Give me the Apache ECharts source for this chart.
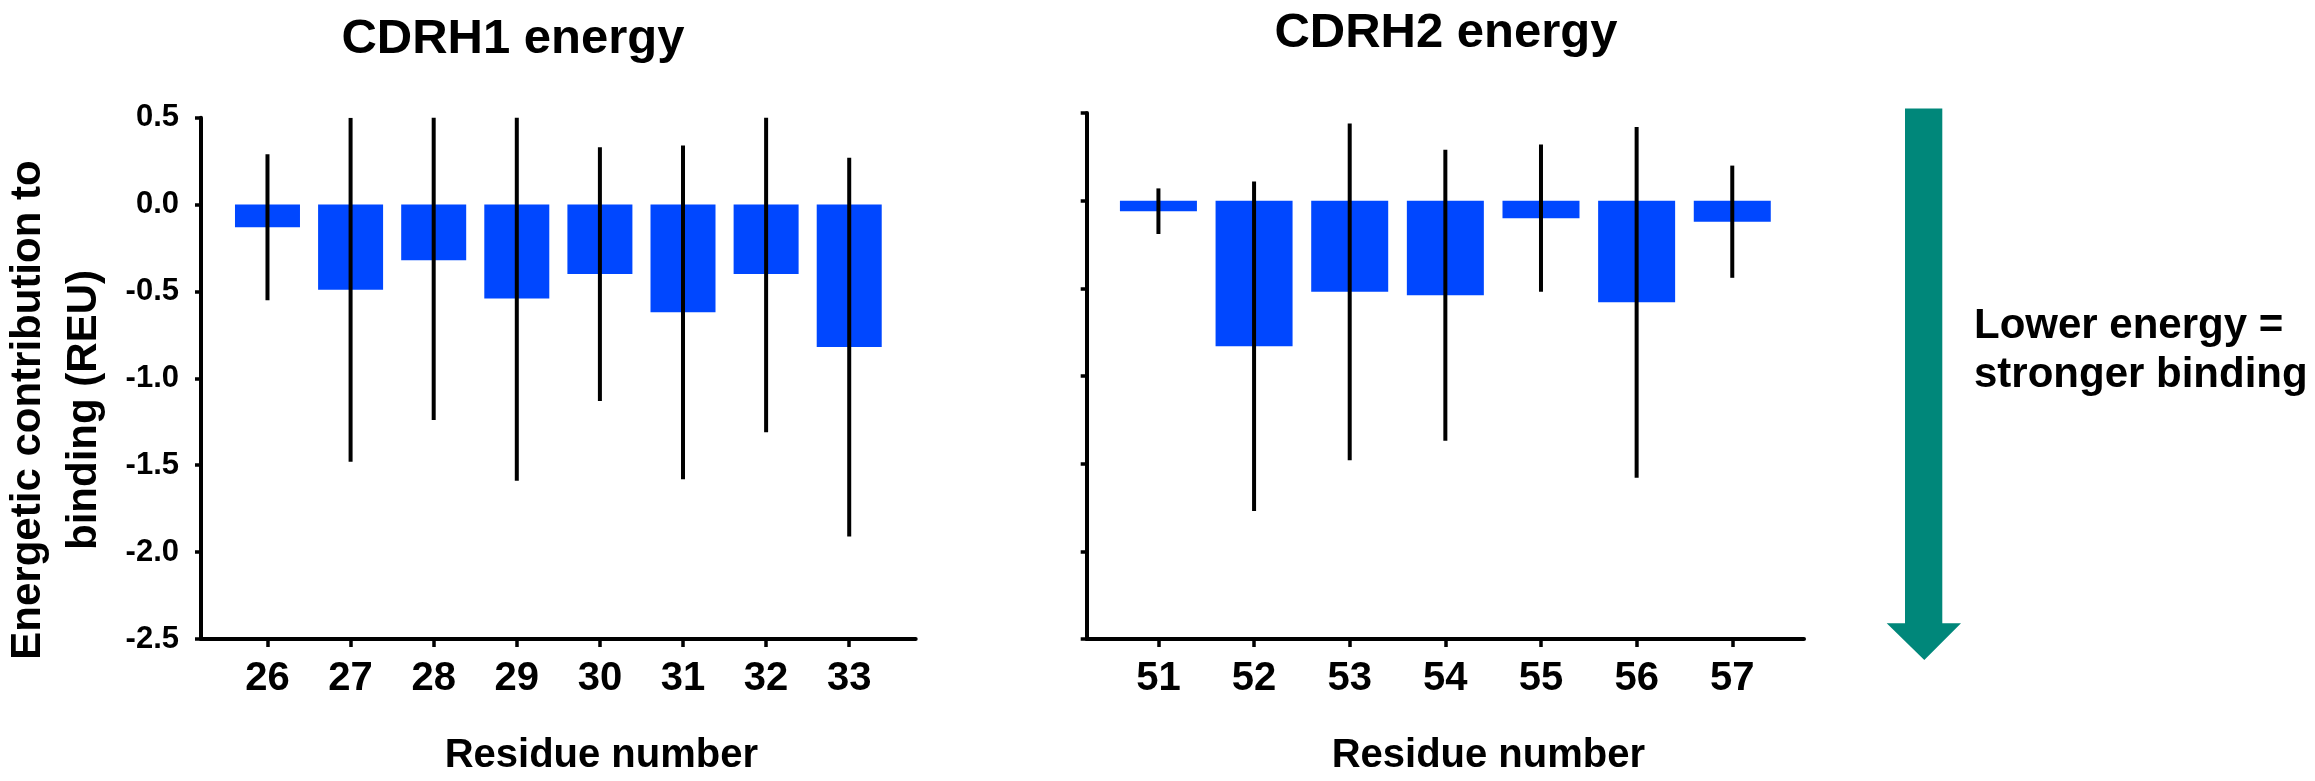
<!DOCTYPE html>
<html>
<head>
<meta charset="utf-8">
<title>CDRH energy</title>
<script src="https://cdn.jsdelivr.net/npm/echarts@6/dist/echarts.min.js"></script>
<style>
html, body { margin: 0; padding: 0; background: #ffffff; }
#main { width: 2315px; height: 781px; }
</style>
</head>
<body>
<div id="main"></div>
<script>
// CDRH1 per-residue energy (REU), mean and spread
var residues1 = [26, 27, 28, 29, 30, 31, 32, 33];
var energy1 = [-0.13, -0.49, -0.32, -0.54, -0.40, -0.62, -0.40, -0.82];
var sd1 = [0.42, 0.99, 0.92, 1.05, 0.73, 0.96, 0.91, 1.09];

// CDRH2
var residues2 = [51, 52, 53, 54, 55, 56, 57];
var energy2 = [-0.06, -0.83, -0.52, -0.54, -0.10, -0.58, -0.12];
var sd2 = [0.13, 0.94, 0.96, 0.83, 0.42, 1.00, 0.32];

// shared y axis
var yMin = -2.5, yMax = 0.5, yStep = 0.5;

var FONT = '"Liberation Sans", Arial, sans-serif';
var BLUE = '#0047ff';
var TEAL = '#00877a';

var myChart = echarts.init(document.getElementById('main'));

function xAxisOf(grid, lo, hi, ticks) {
	return {
		type: 'value', gridIndex: grid, min: lo, max: hi,
		name: 'Residue number', nameLocation: 'middle', nameGap: 97,
		nameTextStyle: { fontFamily: FONT, fontWeight: 'bold', fontSize: 40, color: '#000', padding: [0, 0, 0, 86] },
		axisLine: { show: true, onZero: false, lineStyle: { color: '#000', width: 4 } },
		axisTick: { show: true, customValues: ticks, length: 8, lineStyle: { color: '#000', width: 3.5 } },
		axisLabel: { customValues: ticks, margin: 20, fontFamily: FONT, fontWeight: 'bold', fontSize: 40, color: '#000' },
		splitLine: { show: false }
	};
}

function yAxisOf(grid, showLabels) {
	return {
		type: 'value', gridIndex: grid, min: yMin, max: yMax, interval: yStep,
		axisLine: { show: true, lineStyle: { color: '#000', width: 4 } },
		axisTick: { show: true, length: 6, lineStyle: { color: '#000', width: 3.5 } },
		axisLabel: {
			show: showLabels, margin: 22, padding: [9, 0, 0, 0],
			fontFamily: FONT, fontWeight: 'bold', fontSize: 31, color: '#000',
			formatter: function (v) { return v.toFixed(1); }
		},
		splitLine: { show: false }
	};
}

function barsOf(idx, xs, ys, w) {
	return {
		type: 'bar', xAxisIndex: idx, yAxisIndex: idx, barWidth: w,
		itemStyle: { color: BLUE },
		data: xs.map(function (x, i) { return [x, ys[i]]; })
	};
}

// vertical error lines, clipped to the plot like the original
function errorsOf(idx, xs, ys, sd) {
	return {
		type: 'custom', xAxisIndex: idx, yAxisIndex: idx, clip: true, z: 3,
		encode: { x: 0, y: [1, 2] },
		renderItem: function (params, api) {
			var p1 = api.coord([api.value(0), api.value(2)]);
			var p2 = api.coord([api.value(0), api.value(1)]);
			return {
				type: 'line',
				shape: { x1: p1[0], y1: p1[1], x2: p2[0], y2: p2[1] },
				style: { stroke: '#000', lineWidth: 4 }
			};
		},
		data: xs.map(function (x, i) { return [x, ys[i] - sd[i], ys[i] + sd[i]]; })
	};
}

myChart.setOption({
	animation: false,
	backgroundColor: '#ffffff',
	title: [
		{ text: 'CDRH1 energy', left: 513, top: 14.5, textAlign: 'center', padding: 0,
		  textStyle: { fontFamily: FONT, fontWeight: 'bold', fontSize: 49, color: '#000' } },
		{ text: 'CDRH2 energy', left: 1446, top: 8.8, textAlign: 'center', padding: 0,
		  textStyle: { fontFamily: FONT, fontWeight: 'bold', fontSize: 49, color: '#000' } }
	],
	grid: [
		{ left: 201, top: 117.7, width: 714.7, height: 529.6 },
		{ left: 1086.7, top: 113, width: 717.3, height: 533 }
	],
	xAxis: [
		xAxisOf(0, 25.2, 33.8, residues1),
		xAxisOf(1, 50.25, 57.75, residues2)
	],
	yAxis: [yAxisOf(0, true), yAxisOf(1, false)],
	series: [
		barsOf(0, residues1, energy1, 65),
		errorsOf(0, residues1, energy1, sd1),
		barsOf(1, residues2, energy2, 77),
		errorsOf(1, residues2, energy2, sd2)
	],
	graphic: [
		{
			type: 'text', x: 56, y: 410, rotation: Math.PI / 2,
			style: {
				text: 'Energetic contribution to\nbinding (REU)',
				fontFamily: FONT, fontWeight: 'bold', fontSize: 42, lineHeight: 56,
				fill: '#000', align: 'center', verticalAlign: 'middle'
			}
		},
		{
			type: 'polygon',
			shape: { points: [[1905, 108.4], [1942.3, 108.4], [1942.3, 623.3], [1961, 623.3],
				[1924.3, 660], [1886.7, 623.3], [1905, 623.3]] },
			style: { fill: TEAL }
		},
		{
			type: 'text', x: 1974, y: 301.6,
			style: {
				text: 'Lower energy =\nstronger binding',
				fontFamily: FONT, fontWeight: 'bold', fontSize: 42, lineHeight: 49,
				fill: '#000', align: 'left', verticalAlign: 'top'
			}
		}
	]
});
</script>
</body>
</html>
